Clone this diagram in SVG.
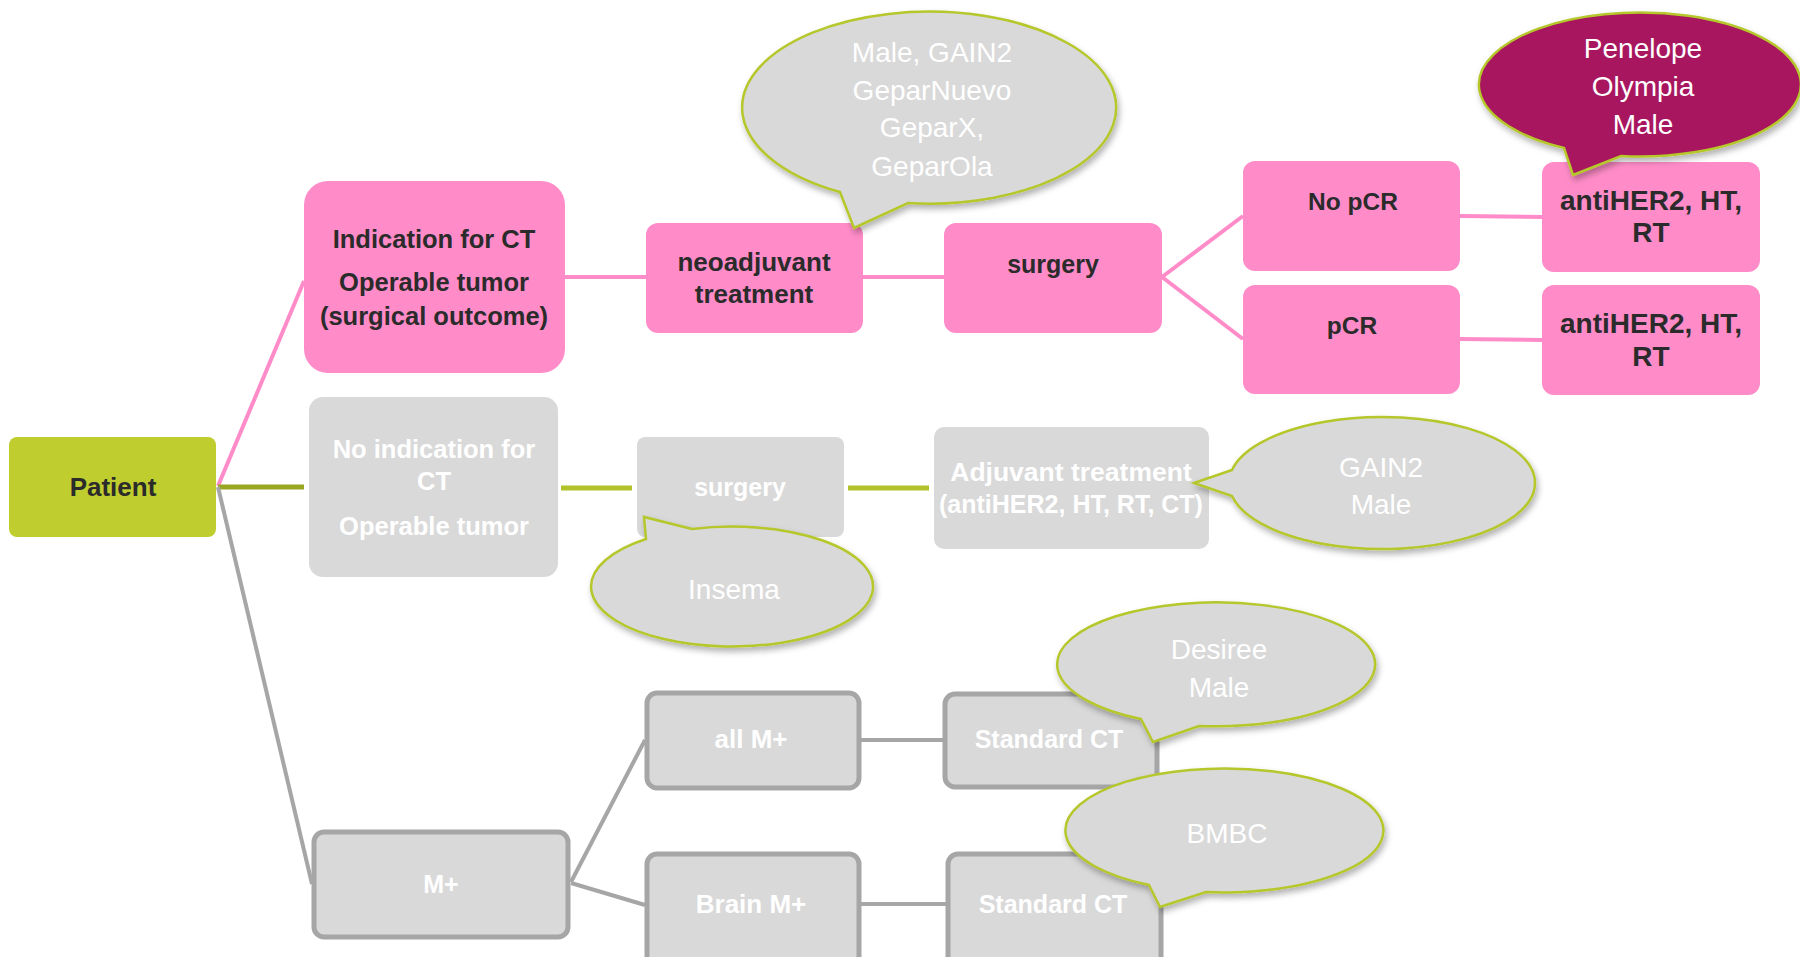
<svg xmlns="http://www.w3.org/2000/svg" width="1800" height="957" viewBox="0 0 1800 957">
<defs>
<filter id="sh" x="-20%" y="-20%" width="140%" height="150%">
<feDropShadow dx="2" dy="4" stdDeviation="3" flood-color="#000" flood-opacity="0.3"/>
</filter>
</defs>
<style>
.pink{fill:#ff8cc8}
.gray{fill:#d9d9d9}
.grayb{fill:#d9d9d9;stroke:#a6a6a6;stroke-width:5}
.pat{fill:#bfcd2e}
.dt{font-family:"Liberation Sans",Arial,sans-serif;font-weight:bold;fill:#2b2b2b;text-anchor:middle}
.wt{font-family:"Liberation Sans",Arial,sans-serif;font-weight:bold;fill:#ffffff;text-anchor:middle}
.bt{font-family:"Liberation Sans",Arial,sans-serif;font-size:28px;fill:#ffffff;text-anchor:middle}
.bub{fill:#d9d9d9;stroke:#b5c72a;stroke-width:2.5;filter:url(#sh)}
.bubm{fill:#a8135f;stroke:#b5c72a;stroke-width:2.5;filter:url(#sh)}
.cp{stroke:#ff8cc8;stroke-width:4;fill:none}
.cg{stroke:#a6a6a6;stroke-width:4;fill:none}
.cl{stroke:#b2c22a;stroke-width:5;fill:none}
.co{stroke:#9aa521;stroke-width:5;fill:none}
</style>
<rect width="1800" height="957" fill="#ffffff"/>
<g id="connectors">
<line class="cp" x1="218" y1="486" x2="304" y2="281"/>
<line class="co" x1="218" y1="487" x2="304" y2="487"/>
<line class="cg" x1="218" y1="487" x2="312" y2="884"/>
<line class="cp" x1="565" y1="277" x2="646" y2="277"/>
<line class="cp" x1="863" y1="277" x2="944" y2="277"/>
<line class="cp" x1="1162" y1="277" x2="1243" y2="216"/>
<line class="cp" x1="1162" y1="277" x2="1243" y2="339"/>
<line class="cp" x1="1460" y1="216" x2="1542" y2="217"/>
<line class="cp" x1="1460" y1="339" x2="1542" y2="340"/>
<line class="cl" x1="561" y1="488" x2="632" y2="488"/>
<line class="cl" x1="848" y1="488" x2="929" y2="488"/>
<line class="cg" x1="571" y1="882" x2="645" y2="740"/>
<line class="cg" x1="571" y1="883" x2="645" y2="905"/>
<line class="cg" stroke-width="5" x1="859" y1="740" x2="943" y2="740"/>
<line class="cg" stroke-width="5" x1="859" y1="904" x2="946" y2="904"/>
</g>
<g id="patient">
<rect class="pat" x="9" y="437" width="207" height="100" rx="8"/>
<text class="dt" x="113" y="496" font-size="26">Patient</text>
</g>
<g id="indication">
<rect class="pink" x="304" y="181" width="261" height="192" rx="24"/>
<text class="dt" font-size="25.5"><tspan x="434" y="248">Indication for CT</tspan><tspan x="434" y="291">Operable tumor</tspan><tspan x="434" y="325">(surgical outcome)</tspan></text>
</g>
<g id="no-indication">
<rect class="gray" x="309" y="397" width="249" height="180" rx="14"/>
<text class="wt" font-size="25.5"><tspan x="434" y="458">No indication for</tspan><tspan x="434" y="490">CT</tspan><tspan x="434" y="535">Operable tumor</tspan></text>
</g>
<g id="mplus">
<rect class="grayb" x="314" y="832" width="254" height="105" rx="10"/>
<text class="wt" x="441" y="893" font-size="25">M+</text>
</g>
<g id="neoadjuvant">
<rect class="pink" x="646" y="223" width="217" height="110" rx="12"/>
<text class="dt" font-size="26"><tspan x="754" y="271">neoadjuvant</tspan><tspan x="754" y="303">treatment</tspan></text>
</g>
<g id="surgery-pink">
<rect class="pink" x="944" y="223" width="218" height="110" rx="12"/>
<text class="dt" x="1053" y="273" font-size="25">surgery</text>
</g>
<g id="no-pcr">
<rect class="pink" x="1243" y="161" width="217" height="110" rx="12"/>
<text class="dt" x="1353" y="210" font-size="24.5">No pCR</text>
</g>
<g id="pcr">
<rect class="pink" x="1243" y="285" width="217" height="109" rx="12"/>
<text class="dt" x="1352" y="334" font-size="24.5">pCR</text>
</g>
<g id="antiher2-top">
<rect class="pink" x="1542" y="162" width="218" height="110" rx="12"/>
<text class="dt" font-size="28"><tspan x="1651" y="210">antiHER2, HT,</tspan><tspan x="1651" y="242">RT</tspan></text>
</g>
<g id="antiher2-bottom">
<rect class="pink" x="1542" y="285" width="218" height="110" rx="12"/>
<text class="dt" font-size="28"><tspan x="1651" y="333">antiHER2, HT,</tspan><tspan x="1651" y="366">RT</tspan></text>
</g>
<g id="surgery-gray">
<rect class="gray" x="637" y="437" width="207" height="100" rx="8"/>
<text class="wt" x="740" y="496" font-size="25">surgery</text>
</g>
<g id="adjuvant">
<rect class="gray" x="934" y="427" width="275" height="122" rx="10"/>
<text class="wt" font-size="26.5"><tspan x="1071" y="481">Adjuvant treatment</tspan><tspan x="1071" y="513" font-size="25">(antiHER2, HT, RT, CT)</tspan></text>
</g>
<g id="all-mplus">
<rect class="grayb" x="647" y="693" width="212" height="95" rx="10"/>
<text class="wt" x="751" y="748" font-size="26">all M+</text>
</g>
<g id="standard-ct-top">
<rect class="grayb" x="945" y="694" width="212" height="93" rx="10"/>
<text class="wt" x="1049" y="748" font-size="25">Standard CT</text>
</g>
<g id="brain-mplus">
<rect class="grayb" x="647" y="854" width="212" height="120" rx="10"/>
<text class="wt" x="751" y="913" font-size="26">Brain M+</text>
</g>
<g id="standard-ct-bottom">
<rect class="grayb" x="948" y="854" width="213" height="120" rx="10"/>
<text class="wt" x="1053" y="913" font-size="25">Standard CT</text>
</g>
<g id="bubble-neo">
<path class="bub" d="M 840,192 L 854,228 L 908,203 A 187 96 0 1 0 840,192 Z"/>
<text class="bt" font-size="29"><tspan x="932" y="62">Male, GAIN2</tspan><tspan x="932" y="100">GeparNuevo</tspan><tspan x="932" y="137">GeparX,</tspan><tspan x="932" y="176">GeparOla</tspan></text>
</g>
<g id="bubble-penelope">
<path class="bubm" d="M 1564,148 L 1573,175 L 1621,156 A 161 72 0 1 0 1564,148 Z"/>
<text class="bt"><tspan x="1643" y="58">Penelope</tspan><tspan x="1643" y="96">Olympia</tspan><tspan x="1643" y="134">Male</tspan></text>
</g>
<g id="bubble-gain2">
<path class="bub" d="M 1232,470 L 1194,483 L 1232,496 A 153 66 0 1 0 1232,470 Z"/>
<text class="bt"><tspan x="1381" y="477">GAIN2</tspan><tspan x="1381" y="514">Male</tspan></text>
</g>
<g id="bubble-insema">
<path class="bub" d="M 646,539 L 644,517 L 692,529 A 141 60 0 1 1 646,539 Z"/>
<text class="bt" x="734" y="599">Insema</text>
</g>
<g id="bubble-desiree">
<path class="bub" d="M 1141,719 L 1153,742 L 1199,726 A 159 62 0 1 0 1141,719 Z"/>
<text class="bt"><tspan x="1219" y="659">Desiree</tspan><tspan x="1219" y="697">Male</tspan></text>
</g>
<g id="bubble-bmbc">
<path class="bub" d="M 1149,885 L 1160,907 L 1206,892 A 159 62 0 1 0 1149,885 Z"/>
<text class="bt" x="1227" y="843">BMBC</text>
</g>
</svg>
